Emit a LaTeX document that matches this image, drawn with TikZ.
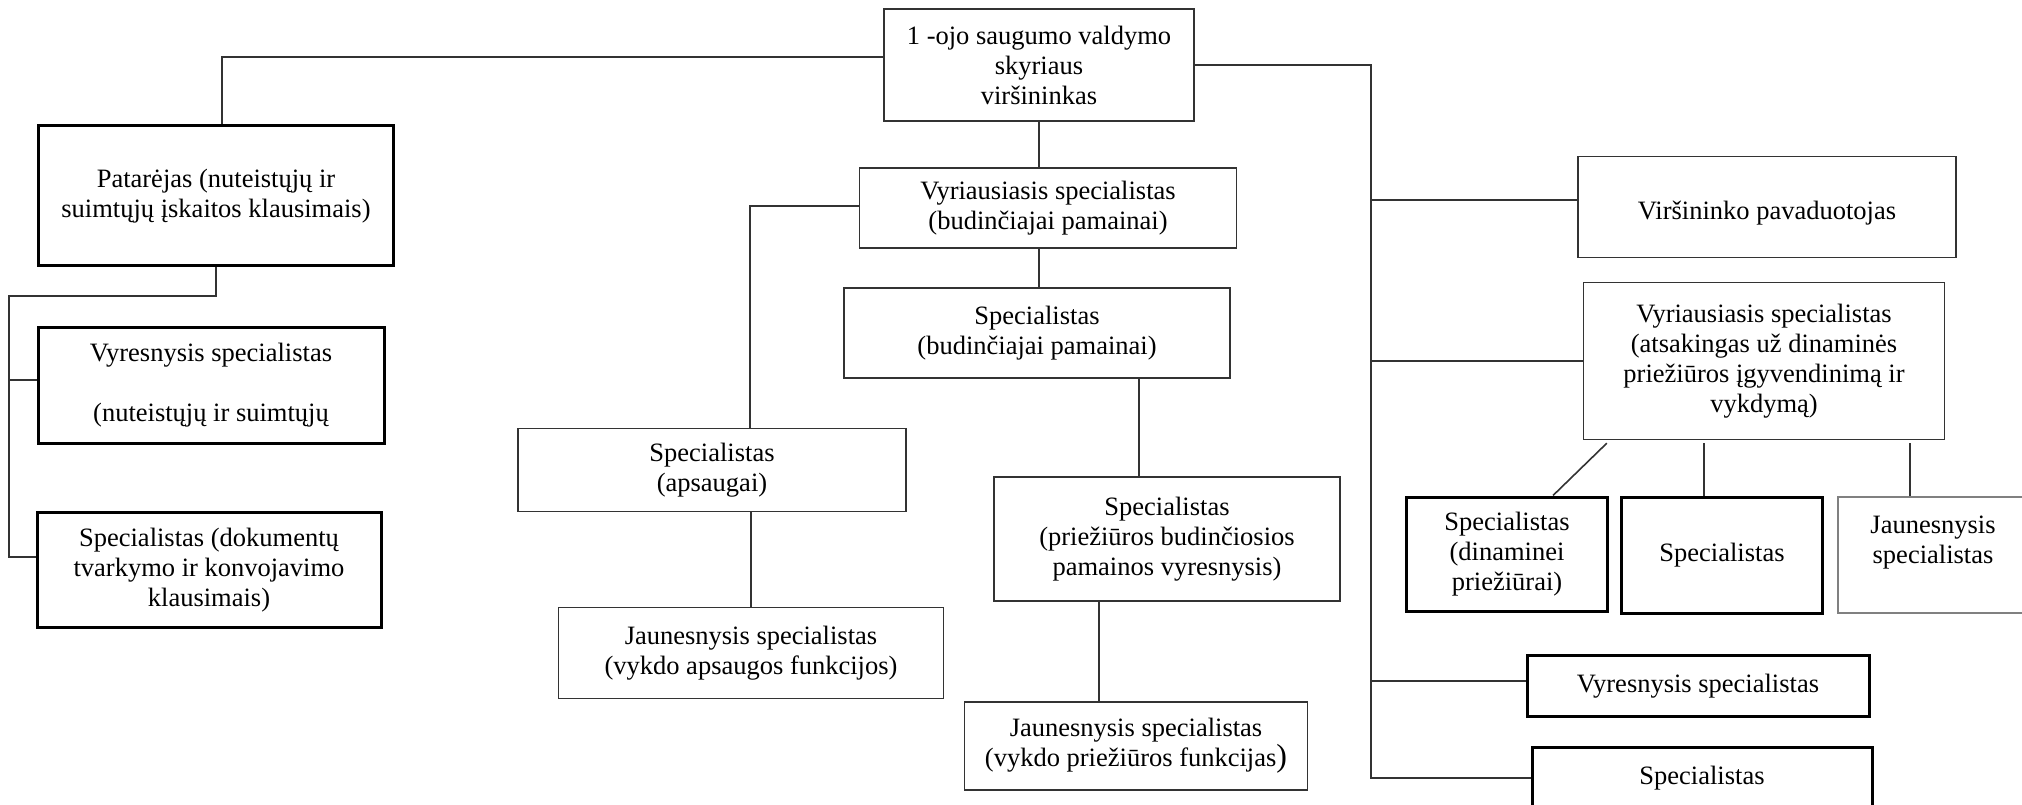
\documentclass[tikz,border=0pt]{standalone}
\usepackage{fontspec}
\setmainfont{Liberation Serif}
\usetikzlibrary{calc}
\definecolor{boxgray}{HTML}{333333}
\definecolor{jaungray}{HTML}{808080}

\begin{document}
\begin{tikzpicture}[x=1pt, y=-1pt, color=boxgray, line width=1.6pt,
	box/.style={draw=boxgray, line width=1.5pt, align=center, inner sep=0pt, text=black, font=\fontsize{26.5}{30}\selectfont},
	thickbox/.style={box, draw=black, line width=3pt}]
		\useasboundingbox (0,0) rectangle (2022,805);
		\clip (0,0) rectangle (2022,805);
		\node[box, minimum width=310pt, minimum height=112pt] (head) at (1039,65) {1 -ojo saugumo valdymo\\skyriaus\\viršininkas};
		\node[thickbox, minimum width=355pt, minimum height=140pt] (patarejas) at (216,196) {Patarėjas (nuteistųjų ir\\suimtųjų įskaitos klausimais)};
		\node[thickbox, minimum width=346pt, minimum height=116pt] (vyrkair) at (211,385) {Vyresnysis specialistas\\\mbox{}\\(nuteistųjų ir suimtųjų};
		\node[thickbox, minimum width=344pt, minimum height=115pt] (dokum) at (209,570) {Specialistas (dokumentų\\tvarkymo ir konvojavimo\\klausimais)};
		\node[box, minimum width=377pt, minimum height=80pt] (vyrbud) at (1048,208) {Vyriausiasis specialistas\\(budinčiajai pamainai)};
		\node[box, minimum width=386pt, minimum height=90pt] (specbud) at (1037,333) {Specialistas\\(budinčiajai pamainai)};
		\node[box, minimum width=388pt, minimum height=83pt] (apsaug) at (712,470) {Specialistas\\(apsaugai)};
		\node[box, minimum width=385pt, minimum height=91pt] (jaunaps) at (751,653) {Jaunesnysis specialistas\\(vykdo apsaugos funkcijos)};
		\node[box, minimum width=346pt, minimum height=124pt] (prieziur) at (1167,539) {Specialistas\\(priežiūros budinčiosios\\pamainos vyresnysis)};
		\node[box, minimum width=343pt, minimum height=88pt] (jaunpriez) at (1136,746) {Jaunesnysis specialistas\\(vykdo priežiūros funkcijas{\fontsize{32}{30}\selectfont)}};
		\node[box, minimum width=378pt, minimum height=101pt] (pavad) at (1767,207) {\raisebox{-13pt}[0pt][0pt]{Viršininko pavaduotojas}};
		\node[box, minimum width=361pt, minimum height=157pt] (vyrdin) at (1764,361) {Vyriausiasis specialistas\\(atsakingas už dinaminės\\priežiūros įgyvendinimą ir\\vykdymą)};
		\node[thickbox, minimum width=201pt, minimum height=114pt] (dinam) at (1507,554) {Specialistas\\(dinaminei\\priežiūrai)};
		\node[thickbox, minimum width=201pt, minimum height=116pt] (specdin) at (1722,555) {Specialistas};
		\node[box, draw=jaungray, minimum width=190pt, minimum height=116pt] (jaundin) at (1933,555) {Jaunesnysis\\specialistas\\\mbox{}};
		\node[thickbox, minimum width=342pt, minimum height=61pt] (vyrdes) at (1698,686) {Vyresnysis specialistas};
		\node[thickbox, minimum width=340pt, minimum height=62pt] (specapac) at (1702,778) {Specialistas};
		\coordinate (trunkend) at (1371,779);
		\coordinate (leftbus) at (9,296);
		\coordinate (leftmid) at (9,380);
		\coordinate (leftend) at (9,557);
		\draw ($(patarejas.north)+(6,0)$) |- ($(head.west)+(0,-8)$);
		\draw (head.east) -| (trunkend);
		\draw ($(pavad.west)+(0,-7)$) -- ($(pavad.west -| trunkend)+(0,-7)$);
		\draw (vyrdin.west) -- (vyrdin.west -| trunkend);
		\draw ($(vyrdes.west)+(0,-5)$) -- ($(vyrdes.west -| trunkend)+(0,-5)$);
		\draw (specapac.west) -- (specapac.west -| trunkend);
		\draw (head.south) -- (head.south |- vyrbud.north);
		\draw (head.south |- vyrbud.south) -- (head.south |- specbud.north);
		\draw ($(vyrbud.west)+(0,-2)$) -| ($(apsaug.north)+(38,0)$);
		\draw (jaunaps.north |- apsaug.south) -- (jaunaps.north);
		\draw ($(prieziur.north)+(-28,0)$) -- ($(prieziur.north |- specbud.south)+(-28,0)$);
		\draw ($(prieziur.south)+(-68,0)$) -- ($(jaunpriez.north)+(-37,0)$);
		\draw (patarejas.south) |- (leftbus) -- (leftend) -- (leftend -| dokum.west);
		\draw (leftmid) -- (leftmid -| vyrkair.west);
		\draw ($(vyrdin.south west)+(24,3)$) -- ($(dinam.north west)+(148,0)$);
		\draw ($(specdin.north)+(-18,0)$) -- ($(specdin.north |- vyrdin.south)+(-18,3)$);
		\draw ($(jaundin.north)+(-23,0)$) -- ($(jaundin.north |- vyrdin.south)+(-23,3)$);
	\end{tikzpicture}
\end{document}
